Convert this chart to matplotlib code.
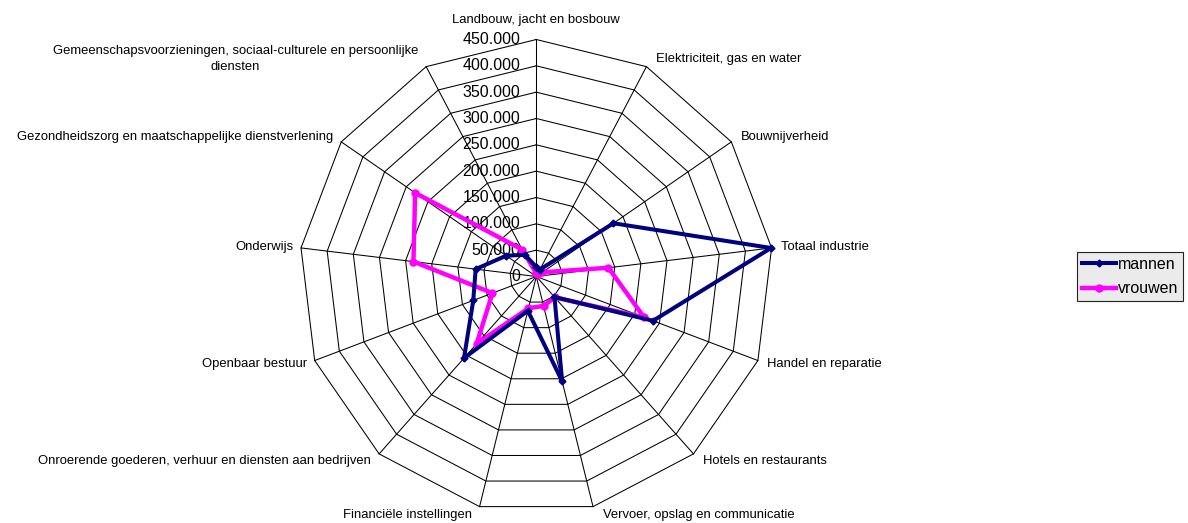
import numpy as np
import matplotlib
matplotlib.use("Agg")
import matplotlib.pyplot as plt

plt.rcParams['font.family'] = ['Liberation Sans', 'DejaVu Sans']

categories = [
    "Landbouw, jacht en bosbouw",
    "Elektriciteit, gas en water",
    "Bouwnijverheid",
    "Totaal industrie",
    "Handel en reparatie",
    "Hotels en restaurants",
    "Vervoer, opslag en communicatie",
    "Financiële instellingen",
    "Onroerende goederen, verhuur en diensten aan bedrijven",
    "Openbaar bestuur",
    "Onderwijs",
    "Gezondheidszorg en maatschappelijke dienstverlening",
    "Gemeenschapsvoorzieningen, sociaal-culturele en persoonlijke\ndiensten",
]
mannen = [18000, 15000, 178000, 449000, 237000, 52000, 205000, 67000, 207000, 128000, 116000, 69500, 46500]
vrouwen = [6000, 5000, 14000, 138000, 219000, 53000, 57500, 62000, 171000, 89000, 235000, 279500, 57700]
ticks = [0, 50000, 100000, 150000, 200000, 250000, 300000, 350000, 400000, 450000]
series_names = ["mannen", "vrouwen"]

W, H = 1188, 523
fig = plt.figure(figsize=(W / 100, H / 100), dpi=100)
cx, cy, R = 536.3, 276.5, 237.0
ax = fig.add_axes([(cx - R) / W, (H - cy - R) / H, 2 * R / W, 2 * R / H], projection='polar')
ax.set_theta_zero_location('N')
ax.set_theta_direction(-1)
rmax = ticks[-1]
ax.set_ylim(0, rmax)
ax.grid(False)
ax.set_xticks([])
ax.set_yticks([])
ax.spines['polar'].set_visible(False)
ax.patch.set_alpha(0)

n = len(categories)
ang = np.arange(n) * 2 * np.pi / n
ang_c = np.append(ang, ang[0])

# polygon rings
for t in ticks[1:]:
    ax.plot(ang_c, [t] * (n + 1), color='black', lw=0.75, clip_on=False, zorder=1)
# spokes
for a in ang:
    ax.plot([a, a], [0, rmax], color='black', lw=0.75, clip_on=False, zorder=1)

# radial tick labels
px = 0.72
for t in ticks:
    lab = f"{t:,}".replace(',', '.')
    ax.annotate(lab, xy=(0, t), xytext=(-16 * px, 0), textcoords='offset points',
                ha='right', va='center', fontsize=11.5, zorder=2)

# category labels
for a, lab in zip(ang, categories):
    s, c = np.sin(a), np.cos(a)
    if abs(s) < 1e-6:
        ha, dx, dy = 'center', 0, 19.5
    else:
        ha = 'left' if s > 0 else 'right'
        dx = 9.5 * np.sign(s) if s > 0 else -8
        dy = 9 * c
    ax.annotate(lab, xy=(a, rmax), xytext=(dx * px, dy * px), textcoords='offset points',
                ha=ha, va='center', fontsize=9.4, multialignment='center',
                linespacing=1.45, zorder=2)

l1, = ax.plot(ang_c, mannen + mannen[:1], color='#000080', lw=2.9, marker='D', ms=3.5,
              clip_on=False, zorder=4, label=series_names[0])
l2, = ax.plot(ang_c, vrouwen + vrouwen[:1], color='#FF00FF', lw=3.2, marker='o', ms=5,
              clip_on=False, zorder=3, label=series_names[1])

leg = fig.legend(handles=[l1, l2], loc='center left', bbox_to_anchor=(1077 / W, 1 - 276.5 / H),
                 fontsize=11.5, frameon=True, fancybox=False, framealpha=1,
                 handlelength=2.15, handletextpad=0.1, borderpad=0.3, labelspacing=0.6,
                 borderaxespad=0)
leg.get_frame().set_facecolor('#EBEBEB')
leg.get_frame().set_edgecolor('#222222')
leg.get_frame().set_linewidth(0.8)

fig.savefig('out.png', dpi=100, facecolor='white')
